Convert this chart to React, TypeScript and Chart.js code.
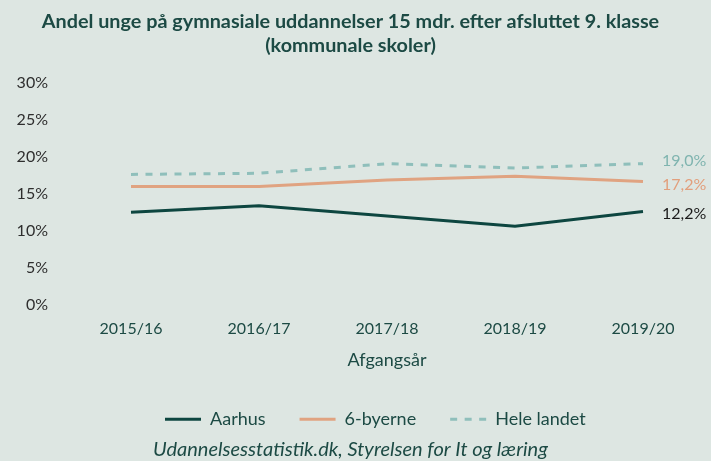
import React, { useEffect, useRef } from 'react';
import { Chart, registerables } from 'chart.js';

Chart.register(...registerables);

// ---- data ----
const categories = ['2015/16', '2016/17', '2017/18', '2018/19', '2019/20'];
const aarhusValues = [12.5, 13.4, 12.0, 10.6, 12.6];
const byerneValues = [16.0, 16.0, 16.9, 17.4, 16.7];
const heleLandetValues = [17.65, 17.8, 19.1, 18.5, 19.1];
const seriesNames = ['Aarhus', '6-byerne', 'Hele landet'];
const endLabels = ['12,2%', '17,2%', '19,0%'];
const yTickValues = [0, 5, 10, 15, 20, 25, 30];
const titleLines = [
  'Andel unge på gymnasiale uddannelser 15 mdr. efter afsluttet 9. klasse',
  '(kommunale skoler)',
];
const xAxisTitle = 'Afgangsår';
const sourceText = 'Udannelsesstatistik.dk, Styrelsen for It og læring';

// ---- styles ----
const BG = '#dde6e2';
const LINE_COLORS = ['#0d4640', '#e0a381', '#8fbfbb'];
const LINE_DASHES = [[], [], [7, 7.5]];
const END_LABEL_COLORS = ['#1b1b1b', '#e29f7c', '#7fb4af'];
const END_LABEL_DY = [2.7, 3, -2.5];
const TEXT_GREEN = '#1c4a44';
const TICK_GREY = '#2e2e2e';
const FONT = 'Lato';

const endLabelPlugin = {
  id: 'endLabels',
  afterDatasetsDraw(chart: any) {
    const ctx = chart.ctx;
    ctx.save();
    ctx.font = `16px ${FONT}`;
    ctx.textAlign = 'left';
    ctx.textBaseline = 'middle';
    chart.data.datasets.forEach((_ds: any, i: number) => {
      const meta = chart.getDatasetMeta(i);
      const pt = meta.data[meta.data.length - 1];
      if (!pt) return;
      ctx.fillStyle = END_LABEL_COLORS[i];
      ctx.fillText(endLabels[i], pt.x + 19, pt.y + END_LABEL_DY[i]);
    });
    ctx.restore();
  },
};

export default function App() {
  const ref = useRef<HTMLCanvasElement | null>(null);

  useEffect(() => {
    if (!ref.current) return;
    Chart.defaults.font.family = FONT;
    const series = [aarhusValues, byerneValues, heleLandetValues];
    const defaultGen = (Chart.defaults as any).plugins.legend.labels.generateLabels;
    const chart = new Chart(ref.current, {
      type: 'line',
      data: {
        labels: categories,
        datasets: series.map((values, i) => ({
          label: seriesNames[i],
          data: values,
          borderColor: LINE_COLORS[i],
          backgroundColor: LINE_COLORS[i],
          borderWidth: 3,
          borderDash: LINE_DASHES[i],
          pointRadius: 0,
          pointHoverRadius: 0,
          tension: 0,
          fill: false,
        })),
      },
      options: {
        responsive: false,
        animation: false,
        layout: { padding: { top: 0, left: 0, right: 10, bottom: 0 } },
        scales: {
          x: {
            type: 'category',
            offset: false,
            grid: { display: false, drawTicks: false },
            border: { display: false },
            ticks: {
              autoSkip: false,
              maxRotation: 0,
              padding: 14.4,
              color: TEXT_GREEN,
              font: { size: 16 },
            },
            title: {
              display: true,
              text: xAxisTitle,
              color: TEXT_GREEN,
              font: { size: 18 },
              padding: { top: 0, bottom: 5.2 },
            },
            afterFit: (s: any) => {
              s.height = 71.7;
            },
          },
          y: {
            type: 'linear',
            position: 'left',
            min: 0,
            max: 30,
            grid: { display: false, drawTicks: false },
            border: { display: false },
            afterBuildTicks: (axis: any) => {
              axis.ticks = yTickValues.map((v) => ({ value: v }));
            },
            ticks: {
              padding: 83,
              color: TICK_GREY,
              font: { size: 16 },
              callback: (v: any) => `${v}%`,
            },
            afterFit: (s: any) => {
              s.width = 131;
              s.paddingTop = 0;
              s.paddingBottom = 0;
            },
          },
          yR: {
            type: 'linear',
            position: 'right',
            display: true,
            grid: { display: false, drawTicks: false },
            border: { display: false },
            ticks: { display: false },
            afterFit: (s: any) => {
              s.width = 58;
              s.paddingTop = 0;
              s.paddingBottom = 0;
            },
          },
        },
        plugins: {
          title: {
            display: true,
            text: titleLines,
            color: TEXT_GREEN,
            font: { size: 19.8, weight: 'bold', lineHeight: 1.228 },
            padding: { top: 9.5, bottom: 25.2 },
          },
          subtitle: {
            display: true,
            position: 'bottom',
            text: sourceText,
            color: TEXT_GREEN,
            font: { size: 20, style: 'italic', lineHeight: 1.14 },
            padding: { top: 0, bottom: 0 },
          },
          legend: {
            display: true,
            position: 'bottom',
            fullSize: false,
            align: 'start',
            labels: {
              usePointStyle: true,
              pointStyle: 'line',
              pointStyleWidth: 36,
              padding: 34,
              color: TEXT_GREEN,
              font: { size: 18 },
              generateLabels: (c: any) =>
                defaultGen(c).map((it: any, i: number) => ({
                  ...it,
                  lineDash: LINE_DASHES[i],
                  lineWidth: 3,
                  strokeStyle: LINE_COLORS[i],
                  fillStyle: LINE_COLORS[i],
                  pointStyle: 'line',
                })),
            },
          },
          tooltip: { enabled: false },
        },
      },
      plugins: [endLabelPlugin],
    } as any);
    return () => chart.destroy();
  }, []);

  return (
    <div
      style={{
        position: 'fixed',
        left: 0,
        top: 0,
        width: 711,
        height: 461,
        background: BG,
      }}
    >
      <canvas ref={ref} width={711} height={461} style={{ display: 'block' }} />
    </div>
  );
}
